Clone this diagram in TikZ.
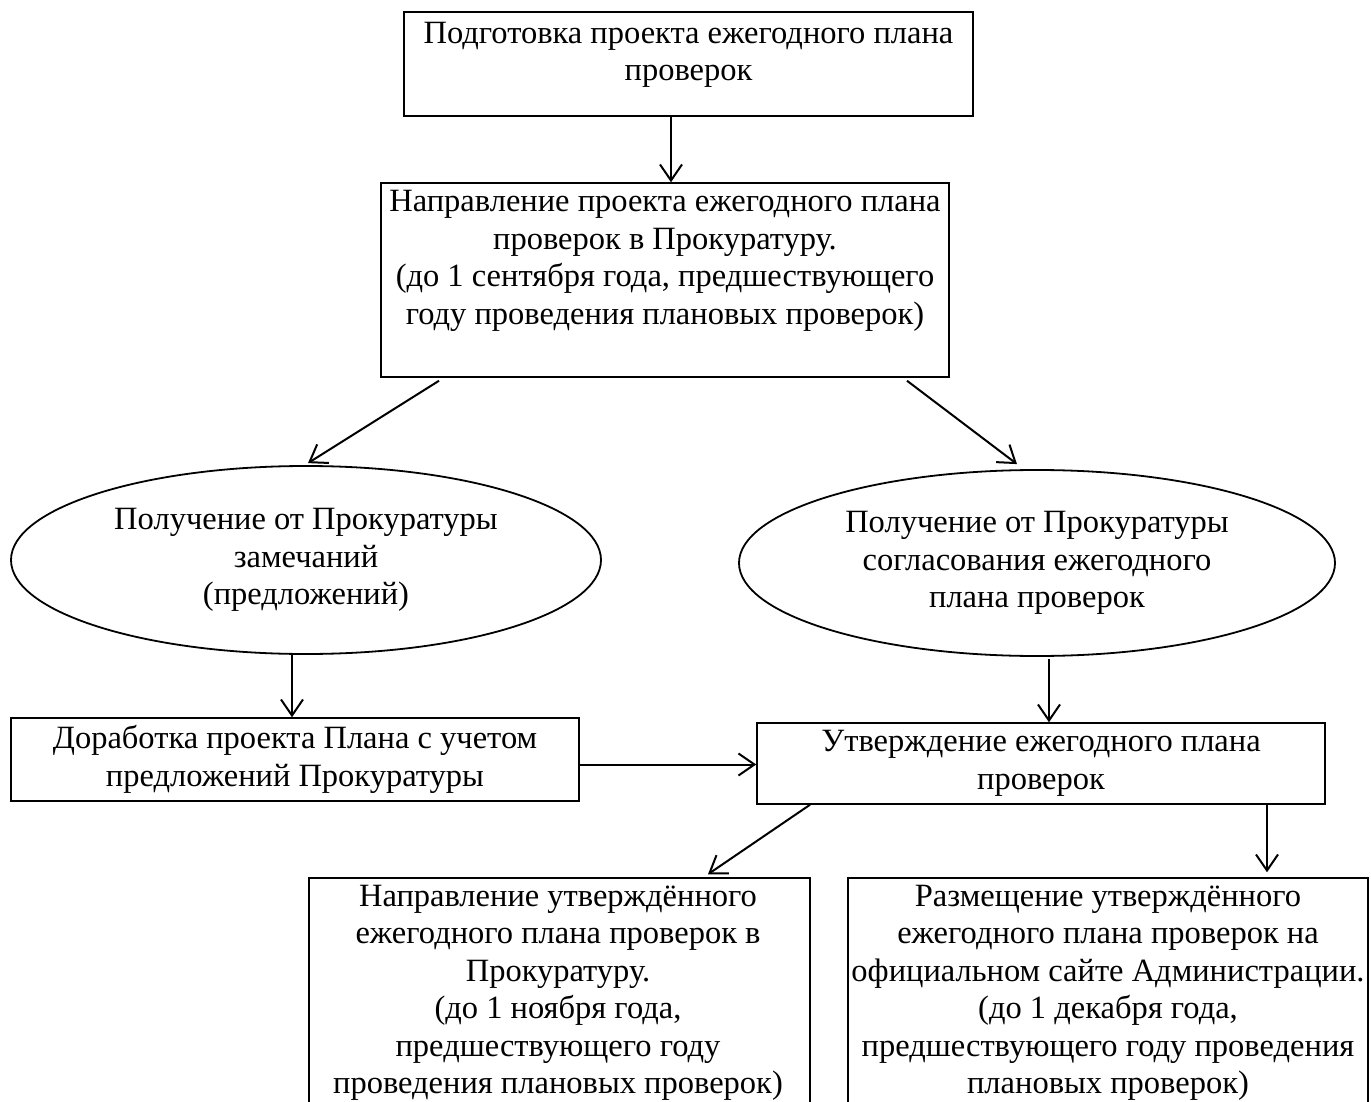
\documentclass[tikz,border=0pt]{standalone}
\usepackage{fontspec}
\setmainfont{Liberation Serif}
\usetikzlibrary{arrows.meta,shapes.geometric}
\begin{document}
\begin{tikzpicture}[x=1pt,y=-1pt,
  box/.style={draw, line width=1.5pt, inner sep=0pt},
  oval/.style={draw, ellipse, line width=1.8pt, inner sep=0pt, align=center,
    font=\fontsize{32.5}{37.5}\selectfont},
  txt/.style={align=center, font=\fontsize{32.5}{37.5}\selectfont, inner sep=0pt},
  arr/.style={line width=2pt, -{Straight Barb[length=16pt,width=22pt,line width=2pt]}}]
\useasboundingbox (0,0) rectangle (1371,1102);
\clip (0,0) rectangle (1371,1102);
% boxes
\node[box, minimum width=569pt, minimum height=104pt] (b1) at (688.5,64) {};
\node[txt] (t1) at (688.5,55) {Подготовка проекта ежегодного плана\\проверок};
\node[box, minimum width=568pt, minimum height=194pt] (b2) at (665,280) {};
\node[txt] (t2) at (665,261) {Направление проекта ежегодного плана\\проверок в Прокуратуру.\\(до 1 сентября года, предшествующего\\году проведения плановых проверок)};
\node[oval, minimum width=590pt, minimum height=188pt] (e1) at (306,560)
  {Получение от Прокуратуры\\замечаний\\(предложений)};
\node[oval, minimum width=596pt, minimum height=186pt] (e2) at (1037,563)
  {Получение от Прокуратуры\\согласования ежегодного\\плана проверок};
\node[box, txt, draw, line width=1.5pt, minimum width=568pt, minimum height=83pt] (b3) at (295,759.5)
  {Доработка проекта Плана с учетом\\предложений Прокуратуры};
\node[box, txt, draw, line width=1.5pt, minimum width=568pt, minimum height=81pt] (b4) at (1041,763.5)
  {Утверждение ежегодного плана\\проверок};
\node[box, minimum width=501pt, minimum height=260pt] (b5) at (559.5,1008) {};
\node[txt] (t5) at (558,993) {Направление утверждённого\\ежегодного плана проверок в\\Прокуратуру.\\(до 1 ноября года,\\предшествующего году\\проведения плановых проверок)};
\node[box, minimum width=520pt, minimum height=260pt] (b6) at (1108,1008) {};
\node[txt] (t6) at (1108,993) {Размещение утверждённого\\ежегодного плана проверок на\\официальном сайте Администрации.\\(до 1 декабря года,\\предшествующего году проведения\\плановых проверок)};
% connectors
\draw[arr] ([xshift=-17.5pt]b1.south) -- ([xshift=6pt]b2.north);
\draw[arr] ([xshift=-226pt,yshift=-3pt]b2.south) -- ([xshift=2pt,yshift=2pt]e1.north);
\draw[arr] ([xshift=242pt,yshift=-3pt]b2.south) -- ([xshift=-20pt,yshift=5pt]e2.north);
\draw[arr] ([xshift=-14pt]e1.south) -- ([xshift=-3pt]b3.north);
\draw[arr] ([xshift=12pt,yshift=-2pt]e2.south) -- ([xshift=8pt]b4.north);
\draw[arr] ([yshift=-5pt]b3.east) -- ([yshift=-1pt]b4.west);
\draw[arr] ([xshift=-231pt]b4.south) -- ([xshift=148.5pt,yshift=3pt]b5.north);
\draw[arr] ([xshift=226pt]b4.south) -- ([xshift=159pt,yshift=5pt]b6.north);
\end{tikzpicture}
\end{document}
